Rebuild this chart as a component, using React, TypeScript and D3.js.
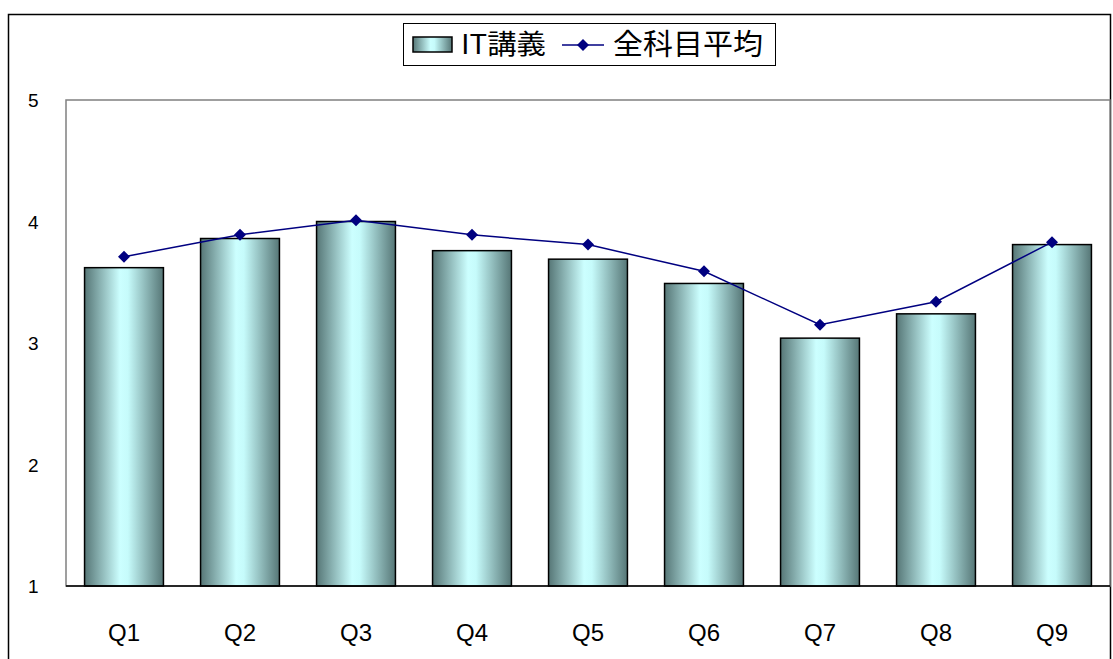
import React from "react";
import * as d3 from "d3";

const categories = ["Q1", "Q2", "Q3", "Q4", "Q5", "Q6", "Q7", "Q8", "Q9"];
const itValues = [3.62, 3.86, 4.0, 3.76, 3.69, 3.49, 3.04, 3.24, 3.81];
const avgValues = [3.71, 3.89, 4.01, 3.89, 3.81, 3.59, 3.15, 3.34, 3.83];
const yTicks = [1, 2, 3, 4, 5];
const seriesNames = ["IT講義", "全科目平均"];

const W = 1113;
const H = 659;
const plot = { left: 66, right: 1110, top: 100, bottom: 586 };
const font = "'Liberation Sans', Arial, 'Noto Sans CJK JP', sans-serif";
const cjkFont = "'Noto Sans CJK JP', 'Liberation Sans', sans-serif";

export default function App() {
  const x = d3.scaleBand<string>().domain(categories).range([plot.left, plot.right]).paddingInner(0.32).paddingOuter(0.16);
  const xc = d3.scalePoint<string>().domain(categories).range([plot.left, plot.right]).padding(0.5);
  const y = d3.scaleLinear().domain([1, 5]).range([plot.bottom, plot.top]);
  const line = d3.line<number>().x((_, i) => xc(categories[i])!).y((d) => y(d));
  const diamond = "M0,-6L6,0L0,6L-6,0Z";

  return (
    <svg width={W} height={H} style={{ position: "absolute", left: 0, top: 0 }}>
      <defs>
        <linearGradient id="barGrad" x1="0" x2="1" y1="0" y2="0">
          <stop offset="0" stopColor="#567676" />
          <stop offset="0.45" stopColor="#ccffff" />
          <stop offset="0.55" stopColor="#c6fbfb" />
          <stop offset="1" stopColor="#567676" />
        </linearGradient>
      </defs>
      <rect x={0} y={0} width={W} height={H} fill="white" />
      <rect x={8.5} y={14.5} width={1102} height={700} fill="white" stroke="#000" strokeWidth={1.5} />
      <rect x={plot.left} y={plot.top} width={plot.right - plot.left} height={plot.bottom - plot.top} fill="white" stroke="#808080" strokeWidth={1.5} />
      {itValues.map((v, i) => (
        <rect key={i} x={x(categories[i])} y={y(v)} width={x.bandwidth()} height={y(1) - y(v)} fill="url(#barGrad)" stroke="#000" strokeWidth={1.5} />
      ))}
      <line x1={plot.left} x2={plot.right} y1={plot.bottom} y2={plot.bottom} stroke="#000" strokeWidth={1.5} />
      {yTicks.map((t) => (
        <text key={t} x={28} y={y(t) + 7} fontSize={19} fontFamily={font} fill="#000">{t}</text>
      ))}
      {categories.map((c) => (
        <text key={c} x={xc(c)} y={641} fontSize={24} fontFamily={font} textAnchor="middle" fill="#000">{c}</text>
      ))}
      <path d={line(avgValues)!} fill="none" stroke="#000080" strokeWidth={1.5} />
      {avgValues.map((v, i) => (
        <path key={i} d={diamond} transform={`translate(${xc(categories[i])},${y(v)})`} fill="#000080" />
      ))}
      <g>
        <rect x={403.5} y={23.5} width={372} height={42} fill="white" stroke="#000" strokeWidth={1} />
        <rect x={413} y={37} width={39} height={15} fill="url(#barGrad)" stroke="#000" strokeWidth={1.5} />
        <text x={461} y={54} fontSize={27} fontFamily={cjkFont} fill="#000" textLength={85} lengthAdjust="spacingAndGlyphs">{seriesNames[0]}</text>
        <line x1={562} x2={604} y1={45} y2={45} stroke="#000080" strokeWidth={1.5} />
        <path d={diamond} transform="translate(583,45)" fill="#000080" />
        <text x={613} y={55} fontSize={29} fontFamily={cjkFont} fill="#000" textLength={150} lengthAdjust="spacingAndGlyphs">{seriesNames[1]}</text>
      </g>
    </svg>
  );
}
